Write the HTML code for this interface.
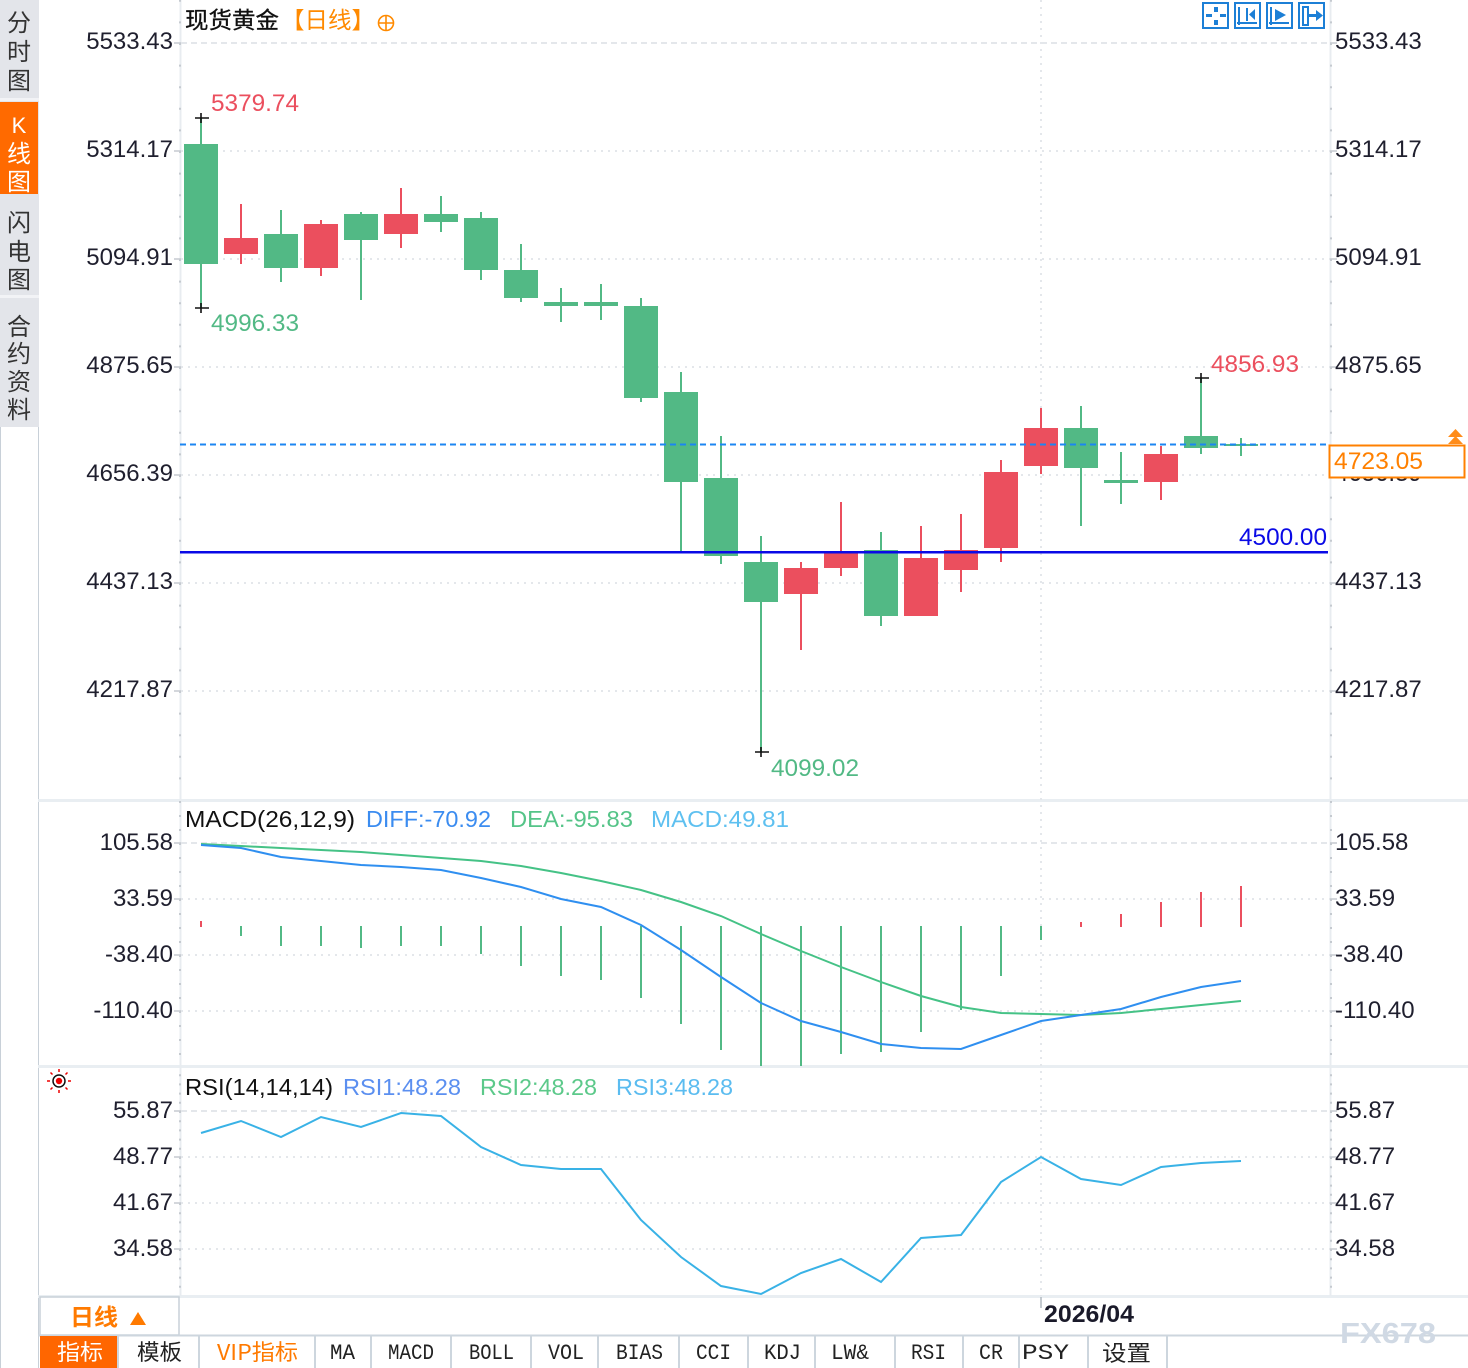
<!DOCTYPE html>
<html><head><meta charset="utf-8">
<style>
html,body{margin:0;padding:0;background:#fff;}
svg{display:block;}
text{font-family:"Liberation Sans","Noto Sans CJK SC",sans-serif;}
.ax{font-size:24px;fill:#1f1f2e;}
.cj{font-family:"Liberation Sans","Noto Sans CJK SC",sans-serif;}
.tb{font-family:"Liberation Mono","Noto Sans CJK SC",monospace;font-size:22px;fill:#222;}
.tbc{font-family:"Noto Sans CJK SC",sans-serif;font-size:22px;fill:#222;}
</style></head>
<body>
<svg width="1468" height="1368" viewBox="0 0 1468 1368" xmlns="http://www.w3.org/2000/svg">
<rect x="0" y="0" width="1468" height="1368" fill="#fff"/>

<!-- left sidebar -->
<rect x="0" y="0" width="39" height="427" fill="#e3e5ea"/>
<rect x="0" y="98" width="39" height="3" fill="#f2f3f6"/>
<rect x="0" y="102" width="38" height="92" fill="#ff6a00"/>
<rect x="0" y="295" width="39" height="3" fill="#f2f3f6"/>
<line x1="38.5" y1="427" x2="38.5" y2="1368" stroke="#c8d0d8" stroke-width="1"/>
<line x1="0.5" y1="427" x2="0.5" y2="1368" stroke="#c8d0d8" stroke-width="1"/>
<g class="cj" font-size="24" fill="#333" text-anchor="middle">
<text x="19" y="31">分</text><text x="19" y="60">时</text><text x="19" y="89">图</text>
<text x="19" y="133" fill="#fff" font-family="Liberation Serif" font-size="22">K</text>
<text x="19" y="162" fill="#fff">线</text><text x="19" y="190" fill="#fff">图</text>
<text x="19" y="231">闪</text><text x="19" y="260">电</text><text x="19" y="288">图</text>
<text x="19" y="335">合</text><text x="19" y="362">约</text><text x="19" y="390">资</text><text x="19" y="418">料</text>
</g>

<!-- panel separators -->
<rect x="38" y="799" width="1430" height="3" fill="#e9eef2"/>
<rect x="38" y="1065" width="1430" height="3" fill="#e9eef2"/>
<rect x="38" y="1295" width="1430" height="3" fill="#e9eef2"/>

<!-- axes lines -->
<line x1="180.5" y1="0" x2="180.5" y2="1296" stroke="#e8ecf0" stroke-width="2"/>
<line x1="1330.5" y1="0" x2="1330.5" y2="1296" stroke="#e8ecf0" stroke-width="2"/>
<g stroke="#c5cad0" stroke-width="2">
<line x1="180" y1="-0.2" x2="180" y2="799" stroke-dasharray="2 19.6"/>
<line x1="1331" y1="-0.2" x2="1331" y2="799" stroke-dasharray="2 19.6"/>
<line x1="180" y1="801" x2="180" y2="1065" stroke-dasharray="2 12"/>
<line x1="1331" y1="801" x2="1331" y2="1065" stroke-dasharray="2 12"/>
<line x1="180" y1="1074.2" x2="180" y2="1295" stroke-dasharray="2 7.2"/>
<line x1="1331" y1="1074.2" x2="1331" y2="1295" stroke-dasharray="2 7.2"/>
</g>
<g stroke="#c5cad0" stroke-width="1.5">
<path d="M174 43H181M174 151H181M174 259H181M174 367H181M174 475H181M174 583H181M174 691H181"/>
<path d="M1330 43H1337M1330 151H1337M1330 259H1337M1330 367H1337M1330 475H1337M1330 583H1337M1330 691H1337"/>
<path d="M174 843H181M174 899H181M174 955H181M174 1011H181M1330 843H1337M1330 899H1337M1330 955H1337M1330 1011H1337"/>
<path d="M174 1111H181M174 1157H181M174 1203H181M174 1249H181M1330 1111H1337M1330 1157H1337M1330 1203H1337M1330 1249H1337"/>
</g>

<!-- gridlines -->
<g stroke="#e4e7eb" stroke-width="2">
<line x1="181" y1="43" x2="1330" y2="43" stroke-dasharray="6 4"/>
<line x1="181" y1="843" x2="1330" y2="843" stroke-dasharray="6 4"/>
<line x1="181" y1="1111" x2="1330" y2="1111" stroke-dasharray="6 4"/>
<g stroke-dasharray="2 5">
<line x1="181" y1="151" x2="1330" y2="151"/><line x1="181" y1="259" x2="1330" y2="259"/>
<line x1="181" y1="367" x2="1330" y2="367"/><line x1="181" y1="475" x2="1330" y2="475"/>
<line x1="181" y1="583" x2="1330" y2="583"/><line x1="181" y1="691" x2="1330" y2="691"/>
<line x1="181" y1="899" x2="1330" y2="899"/><line x1="181" y1="955" x2="1330" y2="955"/>
<line x1="181" y1="1011" x2="1330" y2="1011"/>
<line x1="181" y1="1157" x2="1330" y2="1157"/><line x1="181" y1="1203" x2="1330" y2="1203"/>
<line x1="181" y1="1249" x2="1330" y2="1249"/>
<line x1="1041" y1="0" x2="1041" y2="1296"/>
</g>
</g>

<!-- axis labels -->
<g class="ax" text-anchor="end">
<text x="173" y="49">5533.43</text><text x="173" y="157">5314.17</text><text x="173" y="265">5094.91</text>
<text x="173" y="373">4875.65</text><text x="173" y="481">4656.39</text><text x="173" y="589">4437.13</text>
<text x="173" y="697">4217.87</text>
<text x="173" y="850">105.58</text><text x="173" y="906">33.59</text><text x="173" y="962">-38.40</text><text x="173" y="1018">-110.40</text>
<text x="173" y="1118">55.87</text><text x="173" y="1164">48.77</text><text x="173" y="1210">41.67</text><text x="173" y="1256">34.58</text>
</g>
<g class="ax">
<text x="1335" y="49">5533.43</text><text x="1335" y="157">5314.17</text><text x="1335" y="265">5094.91</text>
<text x="1335" y="373">4875.65</text><text x="1335" y="481">4656.39</text><text x="1335" y="589">4437.13</text>
<text x="1335" y="697">4217.87</text>
<text x="1335" y="850">105.58</text><text x="1335" y="906">33.59</text><text x="1335" y="962">-38.40</text><text x="1335" y="1018">-110.40</text>
<text x="1335" y="1118">55.87</text><text x="1335" y="1164">48.77</text><text x="1335" y="1210">41.67</text><text x="1335" y="1256">34.58</text>
</g>

<!-- title -->
<text x="185" y="28" font-size="23" fill="#111" stroke="#111" stroke-width="0.3" textLength="94" lengthAdjust="spacingAndGlyphs">现货黄金</text>
<text x="281" y="28" font-size="23" fill="#ff8a00" textLength="94" lengthAdjust="spacingAndGlyphs">【日线】</text>
<g stroke="#ff8a00" stroke-width="1.6" fill="none"><circle cx="386" cy="23" r="7.5"/><path d="M378.5 23H393.5M386 15.5V30.5"/></g>

<!-- top-right icons -->
<g stroke="#1c7fd6" stroke-width="2" fill="none">
<rect x="1203" y="3" width="25" height="25"/><rect x="1235" y="3" width="25" height="25"/>
<rect x="1267" y="3" width="25" height="25"/><rect x="1299" y="3" width="25" height="25"/>
<path d="M1239 7V25M1237 23H1257M1247 8V21"/>
<path d="M1271 7V25M1269 23H1289"/>
<rect x="1303" y="7" width="5" height="18"/>
</g>
<g fill="#1c7fd6">
<rect x="1214" y="7" width="4" height="5"/><rect x="1214" y="20" width="4" height="5"/>
<rect x="1206" y="14" width="6" height="3"/><rect x="1220" y="14" width="6" height="3"/>
<polygon points="1255,9 1255,20 1249,14.5"/>
<polygon points="1275,9 1275,21 1286,15"/>
<path d="M1308 14H1316V10L1323 15.5L1316 21V17H1308Z"/>
</g>

<!-- candles -->
<g fill="#52b985">
<rect x="200" y="118" width="2" height="190"/><rect x="184" y="144" width="34" height="120"/>
<rect x="280" y="210" width="2" height="72"/><rect x="264" y="234" width="34" height="34"/>
<rect x="360" y="212" width="2" height="88"/><rect x="344" y="214" width="34" height="26"/>
<rect x="440" y="196" width="2" height="36"/><rect x="424" y="214" width="34" height="8"/>
<rect x="480" y="212" width="2" height="68"/><rect x="464" y="218" width="34" height="52"/>
<rect x="520" y="244" width="2" height="58"/><rect x="504" y="270" width="34" height="28"/>
<rect x="560" y="288" width="2" height="34"/><rect x="544" y="302" width="34" height="4"/>
<rect x="600" y="284" width="2" height="36"/><rect x="584" y="302" width="34" height="4"/>
<rect x="640" y="298" width="2" height="104"/><rect x="624" y="306" width="34" height="92"/>
<rect x="680" y="372" width="2" height="180"/><rect x="664" y="392" width="34" height="90"/>
<rect x="720" y="436" width="2" height="128"/><rect x="704" y="478" width="34" height="78"/>
<rect x="760" y="536" width="2" height="216"/><rect x="744" y="562" width="34" height="40"/>
<rect x="880" y="532" width="2" height="94"/><rect x="864" y="550" width="34" height="66"/>
<rect x="1080" y="406" width="2" height="120"/><rect x="1064" y="428" width="34" height="40"/>
<rect x="1120" y="452" width="2" height="52"/><rect x="1104" y="480" width="34" height="3"/>
<rect x="1200" y="378" width="2" height="76"/><rect x="1184" y="436" width="34" height="12"/>
<rect x="1240" y="438" width="2" height="18"/><rect x="1224" y="444" width="34" height="2"/>
</g>
<g fill="#eb4f5e">
<rect x="240" y="204" width="2" height="60"/><rect x="224" y="238" width="34" height="16"/>
<rect x="320" y="220" width="2" height="56"/><rect x="304" y="224" width="34" height="44"/>
<rect x="400" y="188" width="2" height="60"/><rect x="384" y="214" width="34" height="20"/>
<rect x="800" y="562" width="2" height="88"/><rect x="784" y="568" width="34" height="26"/>
<rect x="840" y="502" width="2" height="74"/><rect x="824" y="553" width="34" height="15"/>
<rect x="920" y="526" width="2" height="90"/><rect x="904" y="558" width="34" height="58"/>
<rect x="960" y="514" width="2" height="78"/><rect x="944" y="550" width="34" height="20"/>
<rect x="1000" y="460" width="2" height="102"/><rect x="984" y="472" width="34" height="76"/>
<rect x="1040" y="408" width="2" height="66"/><rect x="1024" y="428" width="34" height="38"/>
<rect x="1160" y="446" width="2" height="54"/><rect x="1144" y="454" width="34" height="28"/>
</g>
<g stroke="#111" stroke-width="1.6">
<path d="M195 118H209M201 113V123"/><path d="M195 308H209M201 303V313"/>
<path d="M755 752H769M761 747V757"/><path d="M1195 378H1209M1201 373V383"/>
</g>
<g font-size="24">
<text x="211" y="111" fill="#eb4f5e" textLength="88" lengthAdjust="spacingAndGlyphs">5379.74</text>
<text x="211" y="331" fill="#52b985" textLength="88" lengthAdjust="spacingAndGlyphs">4996.33</text>
<text x="771" y="776" fill="#52b985" textLength="88" lengthAdjust="spacingAndGlyphs">4099.02</text>
<text x="1211" y="372" fill="#eb4f5e" textLength="88" lengthAdjust="spacingAndGlyphs">4856.93</text>
</g>

<!-- price lines -->
<line x1="180" y1="444.5" x2="1329" y2="444.5" stroke="#1c86f2" stroke-width="2" stroke-dasharray="6 4"/>
<rect x="180" y="551" width="1148" height="2.5" fill="#0a0ae6"/>
<text x="1239" y="545" font-size="24" fill="#0a0ae6" textLength="88" lengthAdjust="spacingAndGlyphs">4500.00</text>
<rect x="1329.5" y="445.5" width="135" height="32" fill="#fff" stroke="#ff8000" stroke-width="2"/>
<text x="1334" y="469" font-size="24" fill="#ff8000" textLength="89" lengthAdjust="spacingAndGlyphs">4723.05</text>
<g fill="#ff8c1a"><polygon points="1448,437 1463,437 1455.5,429"/><polygon points="1448,444 1463,444 1455.5,436"/></g>

<!-- MACD -->
<text x="185" y="827" font-size="23" fill="#111" textLength="170" lengthAdjust="spacingAndGlyphs">MACD(26,12,9)</text>
<text x="366" y="827" font-size="23" fill="#3b8cf0" textLength="125" lengthAdjust="spacingAndGlyphs">DIFF:-70.92</text>
<text x="510" y="827" font-size="23" fill="#55c488" textLength="123" lengthAdjust="spacingAndGlyphs">DEA:-95.83</text>
<text x="651" y="827" font-size="23" fill="#5ec0f0" textLength="138" lengthAdjust="spacingAndGlyphs">MACD:49.81</text>
<g fill="#52b985">
<rect x="240" y="926" width="2" height="10"/><rect x="280" y="926" width="2" height="20"/>
<rect x="320" y="926" width="2" height="20"/><rect x="360" y="926" width="2" height="22"/>
<rect x="400" y="926" width="2" height="20"/><rect x="440" y="926" width="2" height="20"/>
<rect x="480" y="926" width="2" height="28"/><rect x="520" y="926" width="2" height="40"/>
<rect x="560" y="926" width="2" height="50"/><rect x="600" y="926" width="2" height="54"/>
<rect x="640" y="926" width="2" height="72"/><rect x="680" y="926" width="2" height="98"/>
<rect x="720" y="926" width="2" height="124"/><rect x="760" y="926" width="2" height="140"/>
<rect x="800" y="926" width="2" height="140"/><rect x="840" y="926" width="2" height="128"/>
<rect x="880" y="926" width="2" height="126"/><rect x="920" y="926" width="2" height="106"/>
<rect x="960" y="926" width="2" height="84"/><rect x="1000" y="926" width="2" height="50"/>
<rect x="1040" y="926" width="2" height="14"/>
</g>
<g fill="#eb4f5e">
<rect x="200" y="921" width="2" height="6"/>
<rect x="1080" y="922" width="2" height="5"/><rect x="1120" y="914" width="2" height="13"/>
<rect x="1160" y="902" width="2" height="25"/><rect x="1200" y="892" width="2" height="35"/>
<rect x="1240" y="886" width="2" height="41"/>
</g>
<polyline fill="none" stroke="#45c286" stroke-width="2" points="201,844 241,846 281,848 321,850 361,852 401,855 441,858 481,861 521,866 561,873 601,881 641,890 681,902 721,916 761,934 801,951 841,967 881,982 921,996 961,1007 1001,1013 1041,1014 1081,1015 1121,1013 1161,1009 1201,1005 1241,1001"/>
<polyline fill="none" stroke="#2f8ff0" stroke-width="2" points="201,845 241,848 281,857 321,861 361,865 401,867 441,870 481,878 521,887 561,899 601,907 641,925 681,950 721,977 761,1003 801,1021 841,1032 881,1044 921,1048 961,1049 1001,1035 1041,1021 1081,1015 1121,1009 1161,997 1201,987 1241,981"/>

<!-- RSI -->
<g>
<g stroke="#e00" stroke-width="1.5">
<path d="M59 1069V1072M59 1090V1093M47 1081H50M68 1081H71M50.5 1072.5L52.5 1074.5M65.5 1087.5L67.5 1089.5M67.5 1072.5L65.5 1074.5M52.5 1087.5L50.5 1089.5"/>
</g>
<circle cx="59" cy="1081" r="6" fill="none" stroke="#111" stroke-width="1.5"/>
<circle cx="59" cy="1081" r="3.2" fill="#e00"/>
</g>
<text x="185" y="1095" font-size="23" fill="#111" textLength="148" lengthAdjust="spacingAndGlyphs">RSI(14,14,14)</text>
<text x="343" y="1095" font-size="23" fill="#5b8ff0" textLength="118" lengthAdjust="spacingAndGlyphs">RSI1:48.28</text>
<text x="480" y="1095" font-size="23" fill="#5cc98a" textLength="117" lengthAdjust="spacingAndGlyphs">RSI2:48.28</text>
<text x="616" y="1095" font-size="23" fill="#5bbcf0" textLength="117" lengthAdjust="spacingAndGlyphs">RSI3:48.28</text>
<polyline fill="none" stroke="#39b2e6" stroke-width="2" points="201,1133 241,1121 281,1137 321,1117 361,1127 401,1113 441,1116 481,1147 521,1165 561,1169 601,1169 641,1220 681,1257 721,1286 761,1294 801,1273 841,1259 881,1282 921,1238 961,1235 1001,1182 1041,1157 1081,1179 1121,1185 1161,1167 1201,1163 1241,1161"/>

<!-- date row -->
<rect x="40" y="1297" width="139" height="38" fill="#fff" stroke="#c8d0d8" stroke-width="1.5"/>
<text x="70" y="1325" font-size="23" font-weight="bold" fill="#ff7a00" textLength="48" lengthAdjust="spacingAndGlyphs">日线</text>
<polygon points="130,1325 146,1325 138,1312" fill="#ff7a00"/>
<line x1="1041" y1="1297" x2="1041" y2="1308" stroke="#b0b8c0" stroke-width="1.5"/>
<text x="1044" y="1322" font-size="24" font-weight="bold" fill="#1a1a2a" textLength="90" lengthAdjust="spacingAndGlyphs">2026/04</text>

<!-- toolbar -->
<line x1="38" y1="1335.5" x2="1468" y2="1335.5" stroke="#cdd6de" stroke-width="2"/>
<rect x="40" y="1336" width="78" height="32" fill="#ff6600"/>
<g stroke="#cdd6de" stroke-width="2">
<path d="M118 1336V1368M199 1336V1368M315 1336V1368M371 1336V1368M451 1336V1368M531 1336V1368M598 1336V1368M679 1336V1368M748 1336V1368M815 1336V1368M895 1336V1368M963 1336V1368M1019 1336V1368M1088 1336V1368M1167 1336V1368"/>
</g>
<text class="tbc" x="57" y="1360" style="fill:#fff" textLength="46" lengthAdjust="spacingAndGlyphs">指标</text>
<text class="tbc" x="137" y="1360" textLength="45" lengthAdjust="spacingAndGlyphs">模板</text>
<text class="tbc" x="217" y="1360" style="fill:#ff7a00" textLength="81" lengthAdjust="spacingAndGlyphs">VIP指标</text>
<text class="tb" x="330" y="1359" textLength="25" lengthAdjust="spacingAndGlyphs">MA</text>
<text class="tb" x="388" y="1359" textLength="46" lengthAdjust="spacingAndGlyphs">MACD</text>
<text class="tb" x="469" y="1359" textLength="45" lengthAdjust="spacingAndGlyphs">BOLL</text>
<text class="tb" x="548" y="1359" textLength="36" lengthAdjust="spacingAndGlyphs">VOL</text>
<text class="tb" x="616" y="1359" textLength="47" lengthAdjust="spacingAndGlyphs">BIAS</text>
<text class="tb" x="696" y="1359" textLength="35" lengthAdjust="spacingAndGlyphs">CCI</text>
<text class="tb" x="764" y="1359" textLength="37" lengthAdjust="spacingAndGlyphs">KDJ</text>
<text class="tb" x="831" y="1359" textLength="38" lengthAdjust="spacingAndGlyphs">LW&amp;</text>
<text class="tb" x="911" y="1359" textLength="35" lengthAdjust="spacingAndGlyphs">RSI</text>
<text class="tb" x="979" y="1359" textLength="24" lengthAdjust="spacingAndGlyphs">CR</text>
<text class="tb" x="1022" y="1359" textLength="47" lengthAdjust="spacingAndGlyphs">PSY</text>
<text class="tbc" x="1102" y="1361" textLength="49" lengthAdjust="spacingAndGlyphs">设置</text>
<text x="1340" y="1343" font-size="29" font-weight="bold" fill="#d0d9e4" textLength="96" lengthAdjust="spacingAndGlyphs">FX678</text>
</svg>
</body></html>
